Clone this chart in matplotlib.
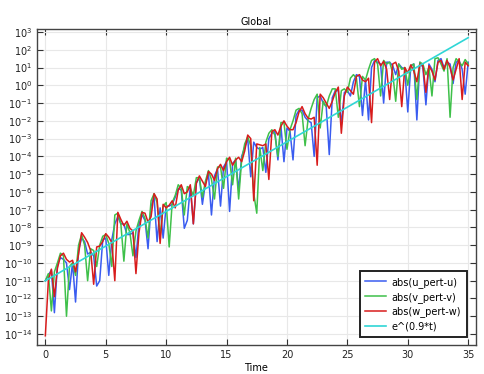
import matplotlib.pyplot as plt
import numpy as np
from matplotlib.ticker import FixedLocator

# time grid (step 0.25)
t = np.arange(0, 35.001, 0.25)

# log10 of |u_pert-u|
log_u = [-11.0, -10.7, -10.4, -12.8, -10.1, -9.7, -9.8, -10.0, -11.5, -10.0,
         -12.2, -9.3, -8.6, -8.8, -9.5, -9.4, -9.6, -11.3, -11.0, -8.7,
         -8.6, -10.7, -8.7, -7.8, -7.4, -7.8, -7.8, -8.4, -8.4, -8.3,
         -9.7, -7.8, -7.3, -7.6, -9.2, -6.8, -6.3, -8.8, -6.9, -8.6,
         -6.8, -6.8, -6.7, -6.3, -5.8, -5.9, -8.05, -7.6, -5.7, -7.8,
         -5.5, -5.2, -6.7, -5.5, -5.0, -7.3, -5.1, -4.7, -6.8, -4.6,
         -4.3, -7.1, -4.4, -4.2, -5.9, -4.0, -3.5, -3.0, -5.15, -3.2,
         -3.5, -3.6, -3.5, -4.9, -3.0, -2.7, -2.6, -4.2, -2.3, -4.3,
         -2.4, -2.6, -4.2, -1.7, -1.4, -1.4, -1.8, -2.0, -2.1, -4.0,
         -0.7, -0.6, -1.0, -1.2, -3.9, -0.7, -0.3, -0.3, -2.2, -0.4,
         -0.3, -0.6, 0.2, 0.6, 0.5, -1.7, 0.3, -1.95, 1.0, 1.4,
         1.3, 1.2, -1.0, 1.3, 1.3, 1.1, 0.6, 1.2, 1.0, 0.9,
         -1.5, 1.1, 1.2, -1.95, 1.3, 1.0, -1.1, 1.2, 0.9, 0.2,
         1.4, 1.5, 1.0, 1.3, 1.2, 0.1, 1.3, 1.4, 0.9, -0.5,
         1.3]

# log10 of |v_pert-v|
log_v = [-11.0, -10.6, -12.7, -10.5, -10.0, -9.45, -9.6, -13.0, -10.2, -10.0,
         -10.7, -9.0, -8.4, -9.0, -11.0, -9.2, -9.3, -10.2, -9.0, -8.5,
         -8.4, -8.9, -10.2, -7.3, -7.2, -7.8, -9.9, -7.8, -8.3, -9.6,
         -8.2, -7.6, -7.1, -7.5, -8.6, -6.5, -6.1, -6.6, -8.5, -6.8,
         -6.6, -9.1, -6.6, -6.2, -5.6, -5.8, -7.3, -5.7, -5.8, -6.2,
         -5.2, -5.2, -6.3, -5.4, -4.8, -5.3, -6.4, -4.6, -4.6, -5.8,
         -4.1, -4.2, -5.6, -4.1, -6.4, -4.2, -3.3, -2.9, -3.4, -6.1,
         -7.2, -3.5, -4.8, -3.2, -2.7, -2.5, -2.8, -4.0, -2.1, -2.1,
         -3.6, -2.5, -2.0, -1.4, -1.3, -1.6, -3.4, -1.9, -1.3, -0.8,
         -0.5, -2.4, -0.9, -1.2, -0.6, -0.2, -0.2, -1.8, -0.3, -0.2,
         -0.4, 0.4, 0.6, 0.4, -1.2, 0.5, 0.3, 0.9, 1.4, 1.5,
         1.2, -0.6, 1.4, 1.2, 1.3, 0.7, -0.9, 1.2, 0.9, 1.0,
         0.0, 1.1, 1.2, -0.8, 1.3, 1.2, 0.6, 1.0, -0.6, 1.5,
         1.55, 1.2, 0.8, 1.5, -1.8, 1.0, 1.5, 1.3, 1.1, 1.45,
         1.2]

# log10 of |w_pert-w|
log_w = [-14.1, -11.0, -10.35, -11.9, -10.3, -9.6, -9.45, -9.8, -9.95, -9.85,
         -10.5, -9.5, -8.3, -8.55, -8.85, -9.3, -11.2, -9.1, -9.05, -8.8,
         -8.35, -8.55, -8.85, -11.0, -7.15, -7.55, -7.9, -7.65, -8.05, -8.2,
         -10.6, -8.3, -7.15, -7.2, -7.7, -7.4, -6.1, -6.4, -8.9, -6.7,
         -6.9, -6.75, -6.5, -6.9, -5.9, -5.6, -6.1, -6.0, -5.6, -7.8,
         -5.5, -5.1, -5.4, -5.7, -4.85, -5.0, -5.35, -4.7, -4.45, -4.8,
         -4.3, -4.05, -4.5, -4.2, -4.05, -4.3, -3.7, -2.8, -3.0, -6.5,
         -3.3, -3.35, -3.4, -3.3, -5.3, -2.6, -2.5, -2.8, -2.3, -2.0,
         -2.3, -2.5, -2.5, -2.1, -1.5, -1.2, -1.6, -1.85, -1.9, -1.8,
         -4.5, -0.5, -0.7, -1.0, -1.3, -0.9, -0.4, -0.1, -2.7, -0.6,
         -0.1, -0.3, -0.5, 0.5, 0.6, 0.3, 0.2, 0.4, -2.1, 1.3,
         1.5, 1.1, 1.35, 0.9, -0.8, 1.2, 1.3, 0.8, -1.2, 1.0,
         0.7, 1.15, 0.8, 0.2, 1.2, 1.1, -0.4, 1.1, 0.8, 0.3,
         1.3, 1.4, 0.9, 1.4, 1.0, 0.3, 0.9, 1.5, -0.8, 1.3,
         1.1]

# reference growth line e^(0.9*t), read at t = 0, 5, ..., 35
t_ref = [0, 5, 10, 15, 20, 25, 30, 35]
log_ref = [-11.0, -9.05, -7.1, -5.14, -3.18, -1.23, 0.73, 2.68]

plt.rcParams['font.family'] = 'DejaVu Sans'
plt.rcParams['font.size'] = 7

fig = plt.figure(figsize=(4.85, 3.74), dpi=100)
ax = fig.add_axes([0.0763, 0.0775, 0.905, 0.845])

l1, = ax.plot(t, 10.0 ** np.array(log_u), color='#3a5cf0', lw=1.1)
l2, = ax.plot(t, 10.0 ** np.array(log_v), color='#3fc04a', lw=1.1)
l3, = ax.plot(t, 10.0 ** np.array(log_w), color='#d81c1c', lw=1.1)
l4, = ax.plot(t_ref, 10.0 ** np.array(log_ref), color='#2fd6d6', lw=1.2)

ax.set_yscale('log')
ax.set_xlim(-0.69, 35.64)
ax.set_ylim(10 ** -14.62, 10 ** 3.17)
ax.set_xticks(np.arange(0, 36, 5))
ax.yaxis.set_major_locator(FixedLocator([10.0 ** k for k in range(-14, 4)]))
ax.yaxis.set_minor_locator(FixedLocator([]))

ax.grid(True, color='#e8e8e8', lw=0.8)
ax.set_axisbelow(True)
ax.tick_params(direction='in', top=True, right=True, length=4, width=0.8,
               labelsize=7, colors='#333333', labelcolor='#222222')
for s in ax.spines.values():
    s.set_color('#444444')
    s.set_linewidth(1.0)

ax.set_title('Global', fontsize=7, pad=3)
ax.set_xlabel('Time', fontsize=7, labelpad=2)

leg = ax.legend([l1, l2, l3, l4],
                ['abs(u_pert-u)', 'abs(v_pert-v)', 'abs(w_pert-w)', 'e^(0.9*t)'],
                loc='lower right', bbox_to_anchor=(0.9795, 0.0253),
                borderaxespad=0, fontsize=7, fancybox=False, framealpha=1,
                edgecolor='#222222', handlelength=2.1, handletextpad=0.6,
                labelspacing=0.4, borderpad=0.6)
leg.get_frame().set_linewidth(1.4)

plt.savefig('out.png', dpi=100)
